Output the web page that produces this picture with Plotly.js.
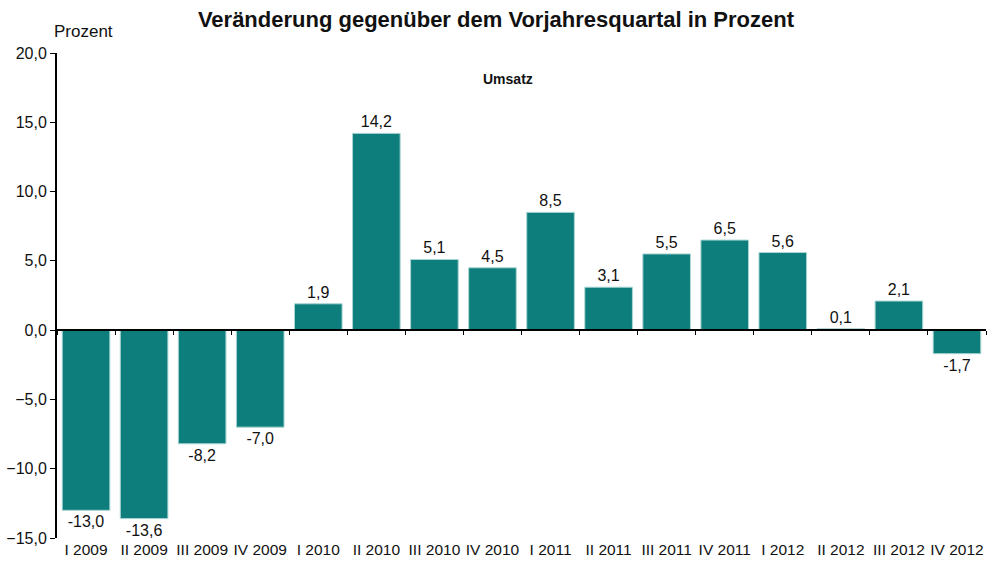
<!DOCTYPE html>
<html>
<head>
<meta charset="utf-8">
<script src="https://cdn.plot.ly/plotly-3.0.1.min.js"></script>
<style>html,body{margin:0;padding:0;background:#fff}#chart{width:988px;height:570px}</style>
</head>
<body>
<div id="chart"></div>
<script>
const categories = ["I 2009","II 2009","III 2009","IV 2009","I 2010","II 2010","III 2010","IV 2010","I 2011","II 2011","III 2011","IV 2011","I 2012","II 2012","III 2012","IV 2012"];
const umsatz = [-13.0,-13.6,-8.2,-7.0,1.9,14.2,5.1,4.5,8.5,3.1,5.5,6.5,5.6,0.1,2.1,-1.7];
const yRange = [-15, 20];
const yTicks = [-15,-10,-5,0,5,10,15,20];

const font = "Liberation Sans, Arial, sans-serif";
const xRange = [-0.5, categories.length - 0.5];
const traces = [
  {
    type: "bar", x: categories, y: umsatz,
    marker: {color: "#0d7e7b", line: {color: "#a9d6d4", width: 1}},
    text: umsatz, texttemplate: "%{y:.1f}", textposition: "outside",
    textfont: {family: font, size: 16, color: "#111"},
    cliponaxis: false, hoverinfo: "x+y"
  },
  {
    type: "scatter", x: categories, y: umsatz.map(() => null), xaxis: "x2", yaxis: "y",
    mode: "markers", showlegend: false, hoverinfo: "skip"
  }
];
const layout = {
  width: 988, height: 570,
  margin: {l: 57, r: 2, t: 53, b: 32},
  paper_bgcolor: "#fff", plot_bgcolor: "#fff",
  separators: ",.",
  showlegend: false,
  bargap: 0.18,
  font: {family: font, size: 15, color: "#111"},
  title: {text: "<b>Veränderung gegenüber dem Vorjahresquartal in Prozent</b>",
    x: 0.502, xanchor: "center", y: 0.967, yanchor: "middle",
    font: {family: font, size: 22, color: "#111"}},
  xaxis: {type: "category", range: xRange, showline: false, ticks: "", showgrid: false, zeroline: false,
    tickfont: {family: font, size: 15.5, color: "#111"}, automargin: false},
  xaxis2: {type: "category", overlaying: "x", range: xRange, anchor: "free",
    position: (0 - yRange[0]) / (yRange[1] - yRange[0]),
    side: "bottom", showline: true, linecolor: "#000", linewidth: 2,
    ticks: "outside", tickson: "boundaries", ticklen: 4, tickcolor: "#000", tickwidth: 1,
    showticklabels: false, showgrid: false, zeroline: false},
  yaxis: {range: yRange, tickvals: yTicks, tickformat: ".1f", showgrid: false, zeroline: false,
    showline: true, linecolor: "#000", linewidth: 2, ticks: "outside", ticklen: 5,
    tickcolor: "#000", tickfont: {family: font, size: 16, color: "#111"}, automargin: false},
  annotations: [
    {text: "Prozent", xref: "paper", yref: "paper", x: 0.028, y: 1.0, xanchor: "center", yanchor: "bottom",
      yshift: 10, showarrow: false, font: {family: font, size: 17, color: "#111"}},
    {text: "<b>Umsatz</b>", xref: "paper", yref: "paper", x: 0.485, y: 0.947, xanchor: "center", yanchor: "middle",
      showarrow: false, font: {family: font, size: 14, color: "#111"}}
  ]
};
Plotly.newPlot("chart", traces, layout, {displayModeBar: false, staticPlot: true});
</script>
</body>
</html>
